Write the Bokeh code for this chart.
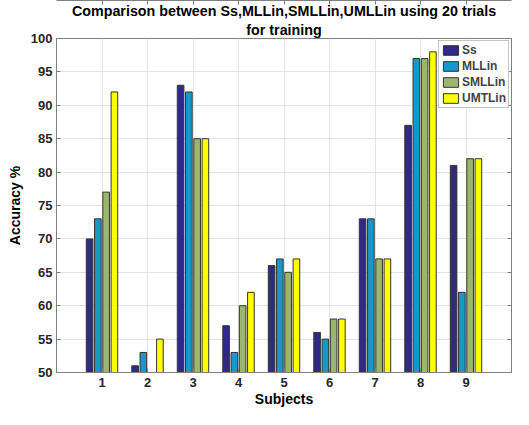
from bokeh.plotting import figure
from bokeh.models import ColumnDataSource, FixedTicker, LinearAxis, Range1d, Legend, LegendItem, Title
from bokeh.transform import dodge
from bokeh.embed import file_html
from bokeh.resources import INLINE

subjects = [1, 2, 3, 4, 5, 6, 7, 8, 9]
series_names = ["Ss", "MLLin", "SMLLin", "UMTLin"]
ss = [70, 51, 93, 57, 66, 56, 73, 87, 81]
mllin = [73, 53, 92, 53, 67, 55, 73, 97, 62]
smllin = [77, 50, 85, 60, 65, 58, 67, 97, 82]
umtlin = [92, 55, 85, 62, 67, 58, 67, 98, 82]
y_ticks = [50, 55, 60, 65, 70, 75, 80, 85, 90, 95, 100]
colors = ["#2e2a86", "#1897c9", "#9cb66b", "#ffff00"]
title_lines = ["Comparison between Ss,MLLin,SMLLin,UMLLin using 20 trials", "for training"]
x_label = "Subjects"
y_label = "Accuracy %"

src = ColumnDataSource(dict(x=subjects, Ss=ss, MLLin=mllin, SMLLin=smllin, UMTLin=umtlin))

FONT = "Liberation Sans"
AX = "#7f7f7f"

p = figure(width=513, height=409, output_backend="svg", toolbar_location=None,
           x_range=Range1d(0, 10), y_range=Range1d(50, 100),
           min_border_left=56, min_border_right=2, min_border_top=0, min_border_bottom=0)

for i, txt in enumerate(reversed(title_lines)):
    t = Title(text=txt, align="center", text_font=FONT, text_font_size="14.3px",
              text_font_style="bold", text_color="#000000", standoff=(2 if i == 0 else 0), offset=0)
    p.add_layout(t, "above")

group_w = 4 / 5.5
step = group_w / 4
bw = step * 0.8
offsets = [(-1.5 + i) * step for i in range(4)]

items = []
for name, col, off in zip(series_names, colors, offsets):
    r = p.vbar(x=dodge("x", off, range=p.x_range), top=name, bottom=50, width=bw,
               source=src, fill_color=col, line_color="#333333", line_width=1)
    items.append(LegendItem(label=name, renderers=[r]))

legend = Legend(items=items, location="top_right")
legend.label_text_font = FONT
legend.label_text_font_style = "bold"
legend.label_text_font_size = "12px"
legend.glyph_width = 19
legend.glyph_height = 12
legend.label_standoff = 2
legend.label_height = 12
legend.label_width = 10
legend.spacing = 2
legend.padding = 2
legend.margin = 2
legend.border_line_color = "#8a8a8a"
legend.background_fill_alpha = 1
p.add_layout(legend)

# axes
for ax in [p.xaxis[0], p.yaxis[0]]:
    ax.axis_line_color = AX
    ax.major_tick_line_color = AX
    ax.minor_tick_line_color = None
    ax.major_tick_in = 4
    ax.major_tick_out = 0
    ax.major_label_text_font = FONT
    ax.major_label_text_font_style = "bold"
    ax.major_label_text_font_size = "13px"
    ax.major_label_text_color = "#262626"
    ax.axis_label_text_font = FONT
    ax.axis_label_text_font_style = "bold"
    ax.axis_label_text_font_size = "14px"
    ax.axis_label_text_color = "#000000"

p.xaxis[0].ticker = FixedTicker(ticks=subjects)
p.yaxis[0].ticker = FixedTicker(ticks=y_ticks)
p.xaxis[0].axis_label = x_label
p.yaxis[0].axis_label = y_label
p.xaxis[0].major_label_standoff = 5
p.yaxis[0].major_label_standoff = 4
p.xaxis[0].axis_label_standoff = 1
p.yaxis[0].axis_label_standoff = 5

top_ax = LinearAxis(ticker=FixedTicker(ticks=subjects), major_label_text_color=None,
                    axis_line_color=AX, major_tick_line_color=AX, major_tick_in=4, major_tick_out=0,
                    minor_tick_line_color=None, major_label_standoff=0)
right_ax = LinearAxis(ticker=FixedTicker(ticks=y_ticks), major_label_text_color=None,
                      major_label_text_font_size="1px",
                      axis_line_color=AX, major_tick_line_color=AX, major_tick_in=4, major_tick_out=0,
                      minor_tick_line_color=None, major_label_standoff=0)
p.add_layout(top_ax, "above")
p.add_layout(right_ax, "right")

p.xgrid.ticker = FixedTicker(ticks=subjects)
p.ygrid.ticker = FixedTicker(ticks=y_ticks)
p.grid.grid_line_color = "#e3e3e3"
p.outline_line_color = AX

open("out.html", "w").write(file_html(p, INLINE))
